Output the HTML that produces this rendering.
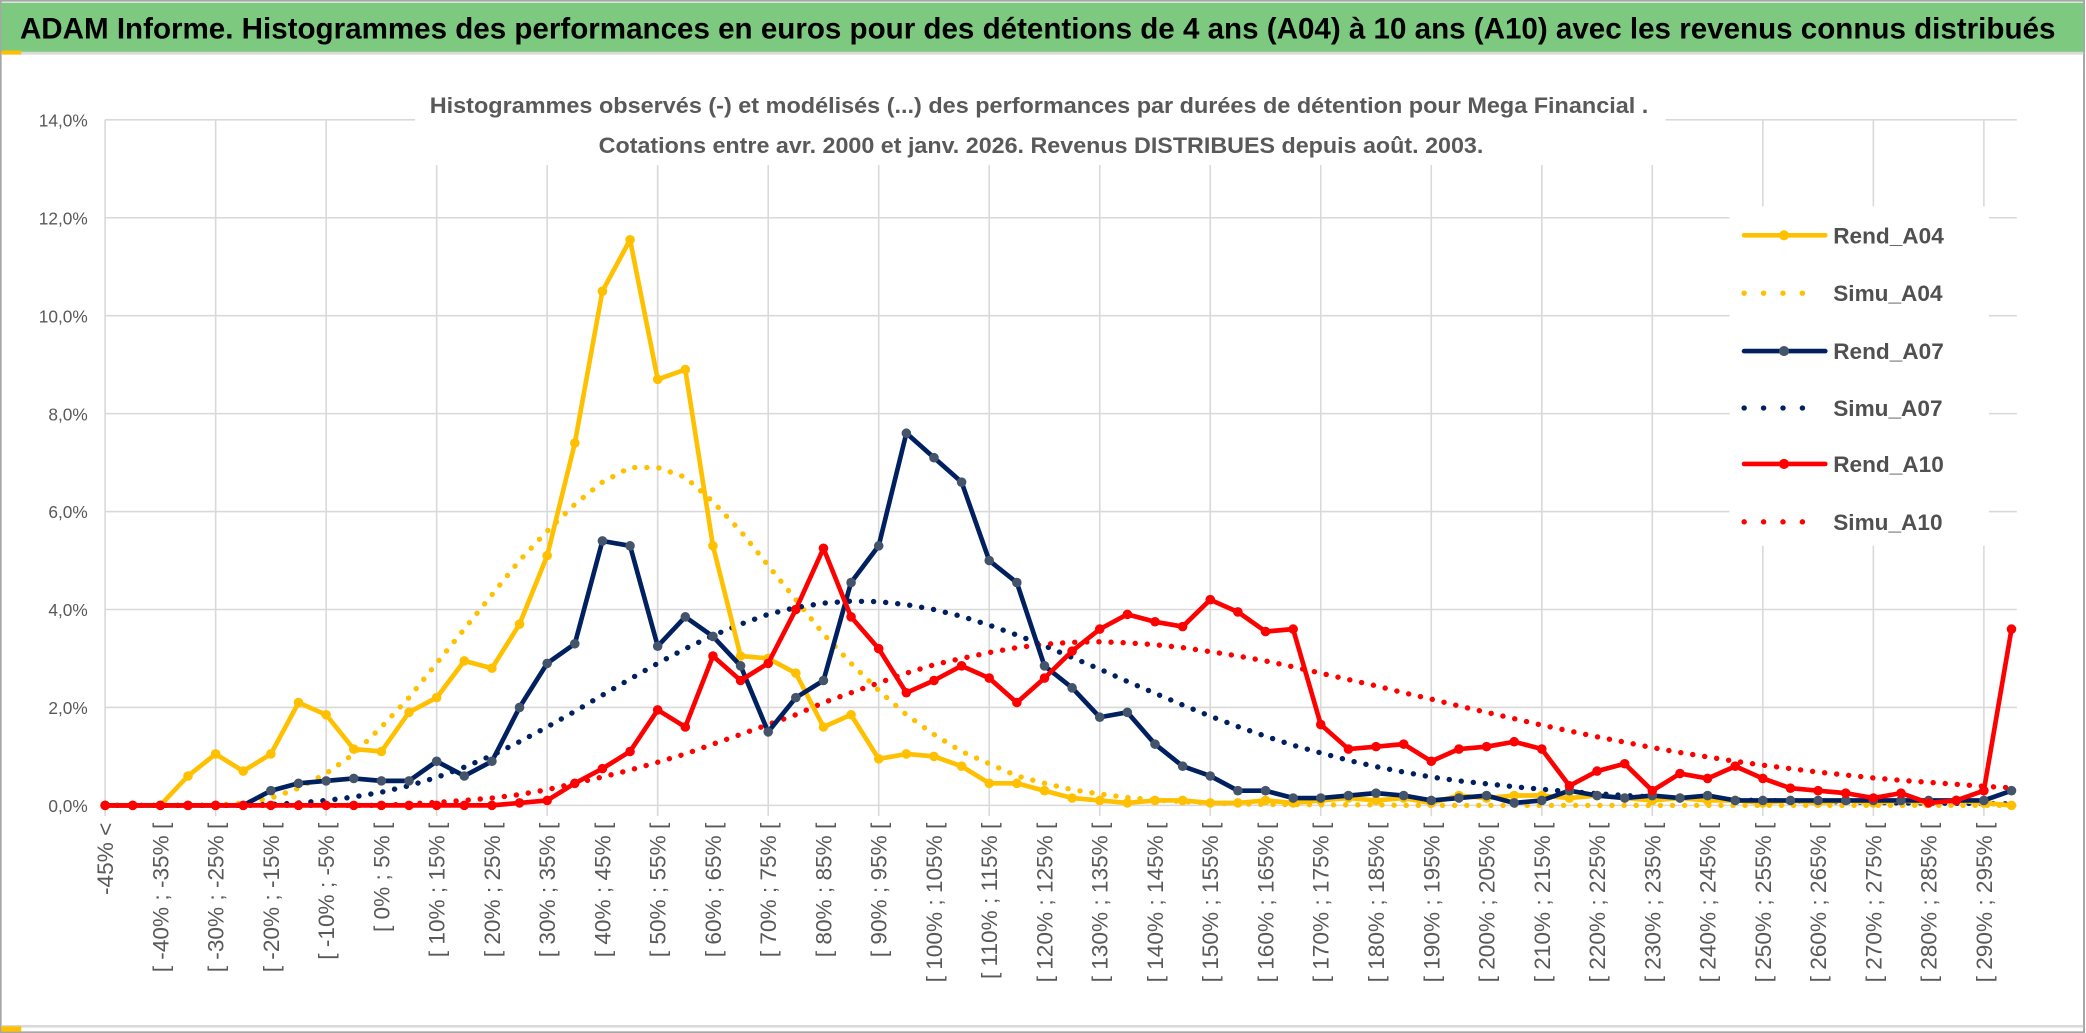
<!DOCTYPE html>
<html><head><meta charset="utf-8"><style>
html,body{margin:0;padding:0;background:#fff;}
svg{display:block;}
text{font-family:"Liberation Sans",sans-serif;}
</style></head><body>
<svg id="chart" width="2086" height="1033" viewBox="0 0 1568 776" preserveAspectRatio="none" xmlns="http://www.w3.org/2000/svg">
<rect x="0" y="0" width="1568" height="776" fill="#fff"/>
<rect x="0.5" y="0.5" width="1566" height="775" fill="none" stroke="#a6a6a6" stroke-width="1.5"/>
<rect x="1" y="2" width="1565" height="37" fill="#7dc97f"/>
<line x1="1" y1="40" x2="1566" y2="40" stroke="#d9d9d9" stroke-width="2"/>
<rect x="1" y="38" width="15" height="3" fill="#ffc000"/>
<line x1="1" y1="771" x2="1566" y2="771" stroke="#d9d9d9" stroke-width="2"/>
<rect x="1" y="771" width="15" height="4" fill="#ffc000"/>
<text x="15" y="29" font-size="22" font-weight="bold" fill="#000" textLength="1530" lengthAdjust="spacingAndGlyphs">ADAM Informe. Histogrammes des performances en euros pour des détentions de 4 ans (A04) à 10 ans (A10) avec les revenus connus distribués</text>
<g id="grid"></g>
<rect x="312" y="62" width="940" height="62" fill="#fff"/>
<text x="323" y="85" font-size="17" font-weight="bold" fill="#595959" textLength="916" lengthAdjust="spacingAndGlyphs">Histogrammes observés (-) et modélisés (...) des performances par durées de détention pour Mega Financial .</text>
<text x="450" y="115" font-size="17" font-weight="bold" fill="#595959" textLength="665" lengthAdjust="spacingAndGlyphs">Cotations entre avr. 2000 et janv. 2026. Revenus DISTRIBUES depuis août. 2003.</text>
<g id="yticks"></g>
<g id="xticks"></g>
<g id="series"></g>
<rect x="1300" y="155" width="195" height="255" fill="#fff"/>
<g id="legend"></g>
</svg>
<script>
const yTicks = [0,2,4,6,8,10,12,14];
const yTickLabels = ["0,0%","2,0%","4,0%","6,0%","8,0%","10,0%","12,0%","14,0%"];
const rendA04 = [0,0,0,0.6,1.05,0.7,1.05,2.1,1.85,1.15,1.1,1.9,2.2,2.95,2.8,3.7,5.1,7.4,10.5,11.55,8.7,8.9,5.3,3.05,3.0,2.7,1.6,1.85,0.95,1.05,1.0,0.8,0.45,0.45,0.3,0.15,0.1,0.05,0.1,0.1,0.05,0.05,0.1,0.05,0.1,0.15,0.1,0.15,0.05,0.2,0.15,0.2,0.2,0.15,0.2,0.15,0.1,0.15,0.1,0.1,0.05,0.1,0.05,0.1,0.05,0.1,0.05,0.1,0.05,0.0];
const simuA04 = [0,0,0,0,0,0.05,0.15,0.35,0.65,1.05,1.6,2.2,2.9,3.6,4.3,5.0,5.6,6.15,6.6,6.9,6.9,6.7,6.2,5.6,4.9,4.2,3.5,2.9,2.35,1.85,1.45,1.1,0.85,0.6,0.45,0.32,0.23,0.16,0.11,0.08,0.05,0.03,0.02,0.02,0.01,0.01,0.01,0,0,0,0,0,0,0,0,0,0,0,0,0,0,0,0,0,0,0,0,0,0,0];
const rendA07 = [0,0,0,0,0,0,0.3,0.45,0.5,0.55,0.5,0.5,0.9,0.6,0.9,2.0,2.9,3.3,5.4,5.3,3.25,3.85,3.45,2.85,1.5,2.2,2.55,4.55,5.3,7.6,7.1,6.6,5.0,4.55,2.85,2.4,1.8,1.9,1.25,0.8,0.6,0.3,0.3,0.15,0.15,0.2,0.25,0.2,0.1,0.15,0.2,0.05,0.1,0.3,0.2,0.15,0.2,0.15,0.2,0.1,0.1,0.1,0.1,0.1,0.1,0.1,0.1,0.1,0.1,0.3];
const simuA07 = [0,0,0,0,0,0,0.02,0.05,0.1,0.17,0.27,0.4,0.57,0.78,1.02,1.3,1.6,1.92,2.25,2.58,2.9,3.2,3.47,3.7,3.9,4.04,4.13,4.17,4.16,4.1,4.0,3.86,3.68,3.48,3.26,3.02,2.78,2.53,2.29,2.05,1.82,1.61,1.41,1.23,1.07,0.92,0.79,0.68,0.58,0.5,0.44,0.38,0.33,0.28,0.24,0.2,0.17,0.15,0.13,0.11,0.1,0.09,0.08,0.07,0.06,0.05,0.05,0.04,0.04,0.03];
const rendA10 = [0,0,0,0,0,0,0,0,0,0,0,0,0,0,0,0.05,0.1,0.45,0.75,1.1,1.95,1.6,3.05,2.55,2.9,4.0,5.25,3.85,3.2,2.3,2.55,2.85,2.6,2.1,2.6,3.15,3.6,3.9,3.75,3.65,4.2,3.95,3.55,3.6,1.65,1.15,1.2,1.25,0.9,1.15,1.2,1.3,1.15,0.4,0.7,0.85,0.3,0.65,0.55,0.8,0.55,0.35,0.3,0.25,0.15,0.25,0.05,0.1,0.3,3.6];
const simuA10 = [0,0,0,0,0,0,0,0,0,0,0,0.03,0.06,0.1,0.15,0.22,0.32,0.45,0.58,0.72,0.88,1.05,1.25,1.45,1.65,1.85,2.1,2.3,2.5,2.7,2.87,3.0,3.12,3.22,3.29,3.33,3.34,3.32,3.28,3.22,3.14,3.05,2.95,2.83,2.7,2.57,2.44,2.3,2.17,2.03,1.9,1.77,1.64,1.52,1.4,1.29,1.18,1.08,0.99,0.9,0.82,0.75,0.68,0.62,0.56,0.51,0.47,0.43,0.39,0.36];
const seriesNames = ["Rend_A04","Simu_A04","Rend_A07","Simu_A07","Rend_A10","Simu_A10"];

const NS = "http://www.w3.org/2000/svg";
const N = rendA04.length;
const X0 = 79, X1 = 1512, Y0 = 605, Y14 = 90;
function xPos(i){ return X0 + (X1 - X0) * i / (N - 1); }
function yPos(v){ return Y0 - (Y0 - Y14) * v / 14; }
function mk(tag, attrs, parent){ const e=document.createElementNS(NS,tag); for(const k in attrs) e.setAttribute(k,attrs[k]); parent.appendChild(e); return e; }
function catLabel(i){
  if(i===0) return "-45% <";
  const lo = -45 + 5*(i-1);
  return "[ " + lo + "% ; " + (lo+5) + "% [";
}
const grid = document.getElementById('grid');
yTicks.forEach(v=>{
  const l = mk('line',{x1:X0,x2:1516,y1:yPos(v),y2:yPos(v),stroke:'#d9d9d9','stroke-width':1.2},grid);
  
  
});
for(let i=0;i<N;i+=4){
  const l = mk('line',{x1:xPos(i),x2:xPos(i),y1:Y14,y2:Y0+8,stroke:'#d9d9d9','stroke-width':1.2},grid);
  
  
}
const yt = document.getElementById('yticks');
yTicks.forEach((v,k)=>{
  const t = mk('text',{x:66,y:yPos(v)+5,'text-anchor':'end','font-size':13,fill:'#595959'},yt);
  t.textContent = yTickLabels[k];
  
  
});
const xt = document.getElementById('xticks');
for(let i=0;i<N;i+=2){
  const x = xPos(i)+6, y = 618;
  const t = mk('text',{x:x,y:y,'text-anchor':'end','font-size':17,fill:'#595959','font-family':'DejaVu Sans, sans-serif',transform:'rotate(-90 '+x+' '+y+')'},xt);
  t.textContent = catLabel(i);
  
  
}
const sg = document.getElementById('series');
function drawLine(data, color, dotted, marker, mcolor, name){
  const pts = data.map((v,i)=>xPos(i).toFixed(1)+','+yPos(v).toFixed(1)).join(' ');
  const attrs = {points:pts,fill:'none',stroke:color,'stroke-linejoin':'round','stroke-linecap':'round'};
  if(dotted){ attrs['stroke-width']=4; attrs['stroke-dasharray']='0.1 9'; }
  else attrs['stroke-width']=3.5;
  const pl = mk('polyline',attrs,sg);
  
  
  if(marker){
    data.forEach((v,i)=>{
      const c = mk('circle',{cx:xPos(i),cy:yPos(v),r:3.6,fill:mcolor},sg);
      
      
    });
  }
}
drawLine(simuA04,'#ffc000',true,false,null,'simu-a04-line');
drawLine(simuA07,'#002060',true,false,null,'simu-a07-line');
drawLine(simuA10,'#ff0000',true,false,null,'simu-a10-line');
drawLine(rendA04,'#ffc000',false,true,'#ffc000','rend-a04-line');
drawLine(rendA07,'#002060',false,true,'#44546a','rend-a07-line');
drawLine(rendA10,'#ff0000',false,true,'#ff0000','rend-a10-line');

const lg = document.getElementById('legend');
const lColors = ['#ffc000','#ffc000','#002060','#002060','#ff0000','#ff0000'];
const lMark = ['#ffc000',null,'#44546a',null,'#ff0000',null];
const lY = [177,235,293,350,406,464].map(v=>v*0.75+44);
seriesNames.forEach((n,k)=>{
  const y = lY[k];
  const g = mk('g',{},lg);
  
  
  if(lMark[k]){
    mk('line',{x1:1311,x2:1372,y1:y,y2:y,stroke:lColors[k],'stroke-width':3.5,'stroke-linecap':'round'},g);
    mk('circle',{cx:1341,cy:y,r:3.8,fill:lMark[k]},g);
  } else {
    mk('line',{x1:1311,x2:1365,y1:y,y2:y,stroke:lColors[k],'stroke-width':4,'stroke-linecap':'round','stroke-dasharray':'0.1 14.5'},g);
  }
  const t = mk('text',{x:1378,y:y+6,'font-size':17,'font-weight':'bold',fill:'#505050'},g);
  t.textContent = n;
});
</script>
</body></html>
